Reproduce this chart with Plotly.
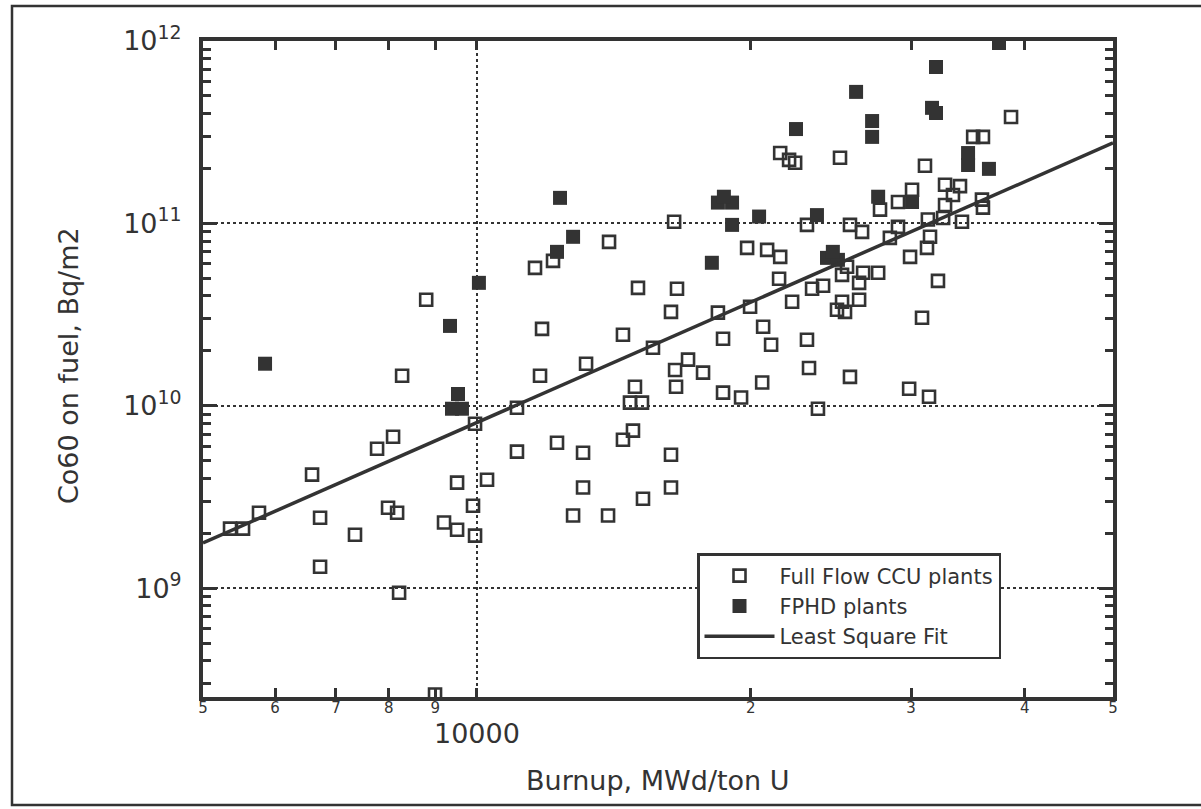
import math
import plotly.graph_objects as go

# Full Flow CCU plants (open squares): burnup MWd/tU, Co60 Bq/m2
ccu_x = [5354, 5533, 5761, 6589, 6724, 6724, 7345, 7767, 8088, 7986, 8171, 8212, 8275, 8795,
         9201, 9510, 9510, 9901, 9952, 10259, 9952, 11066, 11066, 12246, 11731, 13180, 13080,
         13080, 12754, 13934, 14470, 14841, 15222, 14916, 14729, 15184, 11583, 12123, 13969,
         15031, 11791, 14470, 15612, 8994, 38630, 35100, 35980, 31070, 32690, 33950, 33350,
         30070, 29020, 27730, 32690, 35890, 35980, 31300, 32530, 34120, 31470, 31230, 29920,
         28430, 29020, 25700, 26500, 23050, 16470, 21540, 22030, 22370, 25060, 19810, 20840,
         21540, 26570, 27600, 25510, 26300, 25190, 21480, 24010, 23350, 22200, 25190, 26300,
         24870, 25380, 32110, 30840, 16590, 16340, 18400, 19960, 18640, 20630, 21050, 23050,
         17060, 16510, 17720, 16550, 18640, 19510, 20580, 23170, 25700, 29850, 31390, 23700,
         16340, 16340]
ccu_y = [2.12e9, 2.12e9, 2.59e9, 4.19e9, 2.43e9, 1.31e9, 1.96e9, 5.81e9, 6.76e9, 2.76e9, 2.59e9,
         9.44e8, 1.46e10, 3.81e10, 2.29e9, 2.09e9, 3.79e9, 2.83e9, 1.94e9, 3.93e9, 7.97e9, 9.75e9,
         5.60e9, 6.27e9, 1.46e10, 1.70e10, 5.52e9, 3.56e9, 2.50e9, 2.50e9, 6.51e9, 7.30e9, 3.09e9,
         1.27e10, 1.04e10, 1.04e10, 5.70e10, 6.23e10, 7.92e10, 4.43e10, 2.64e10, 2.45e10, 2.08e10,
         2.61e8, 3.83e11, 2.98e11, 2.98e11, 2.07e11, 1.63e11, 1.60e11, 1.43e11, 1.53e11, 1.31e11,
         1.19e11, 1.26e11, 1.35e11, 1.22e11, 1.05e11, 1.07e11, 1.02e11, 8.44e10, 7.34e10, 6.55e10,
         8.33e10, 9.57e10, 9.81e10, 8.98e10, 9.81e10, 1.02e11, 2.43e11, 2.23e11, 2.15e11, 2.29e11,
         7.34e10, 7.16e10, 6.55e10, 5.36e10, 5.36e10, 5.78e10, 4.72e10, 5.22e10, 4.97e10, 4.55e10,
         4.38e10, 3.72e10, 3.72e10, 3.81e10, 3.36e10, 3.27e10, 4.84e10, 3.04e10, 4.38e10, 3.27e10,
         3.24e10, 3.49e10, 2.33e10, 2.71e10, 2.16e10, 2.30e10, 1.79e10, 1.57e10, 1.52e10, 1.27e10,
         1.18e10, 1.11e10, 1.34e10, 1.61e10, 1.44e10, 1.24e10, 1.12e10, 9.63e9, 5.39e9, 3.56e9]

# FPHD plants (filled squares)
fphd_x = [5850, 9341, 10050, 9532, 9388, 9628, 12340, 12754, 12246, 31950, 26100, 37470, 22420,
          27180, 27180, 31630, 31950, 34650, 34650, 36530, 18400, 19070, 18680, 19070, 20420,
          23640, 18120, 27600, 30070, 24250, 24930, 24610]
fphd_y = [1.70e10, 2.74e10, 4.72e10, 1.16e10, 9.63e9, 9.63e9, 1.38e11, 8.44e10, 6.98e10, 7.20e11,
          5.26e11, 9.75e11, 3.29e11, 3.64e11, 2.98e11, 4.30e11, 4.03e11, 2.43e11, 2.09e11, 1.99e11,
          1.30e11, 1.30e11, 1.40e11, 9.81e10, 1.09e11, 1.11e11, 6.08e10, 1.40e11, 1.31e11, 6.47e10,
          6.31e10, 6.98e10]

# Least square fit end points
fit_x = [5000, 50000]
fit_y = [1.77e9, 2.76e11]

# Tick labels
x_tickvals = [5000, 6000, 7000, 8000, 9000, 10000, 20000, 30000, 40000, 50000]
x_ticktext = ["5", "6", "7", "8", "9", " ", "2", "3", "4", "5"]
y_tickvals = [1e9, 1e10, 1e11, 1e12]
y_ticktext = ["10<sup>9</sup>", "10<sup>10</sup>", "10<sup>11</sup>", "10<sup>12</sup>"]
y_minor = [k * 10 ** e for e in range(8, 12) for k in range(2, 10)]

INK = "#333333"
FONT = "DejaVu Sans"

fig = go.Figure()
fig.add_trace(go.Scatter(
    x=ccu_x, y=ccu_y, mode="markers", name="Full Flow CCU plants",
    marker=dict(symbol="square-open", size=12, color=INK, line=dict(width=2.6, color=INK)),
))
fig.add_trace(go.Scatter(
    x=fphd_x, y=fphd_y, mode="markers", name="FPHD plants",
    marker=dict(symbol="square", size=14, color=INK, line=dict(width=0)),
))
fig.add_trace(go.Scatter(
    x=fit_x, y=fit_y, mode="lines", name="Least Square Fit",
    line=dict(color=INK, width=3.5),
))

fig.update_layout(
    width=1201, height=809,
    margin=dict(l=203, r=88, t=41, b=112),
    paper_bgcolor="white", plot_bgcolor="white",
    font=dict(family=FONT, color=INK),
    showlegend=True,
    legend=dict(
        x=(697 - 203) / 910, y=(697 - 553) / 656, xanchor="left", yanchor="top",
        bgcolor="white", bordercolor=INK, borderwidth=2.5,
        font=dict(size=21, family=FONT, color=INK),
        itemwidth=70, tracegroupgap=0,
    ),
    xaxis=dict(
        type="log", range=[math.log10(5000), math.log10(50000)],
        tickvals=x_tickvals, ticktext=x_ticktext,
        tickfont=dict(size=15, family=FONT, color=INK),
        ticks="inside", ticklen=9, tickwidth=2.5, tickcolor=INK,
        showline=True, linewidth=4, linecolor=INK, mirror="ticks",
        showgrid=False, zeroline=False, ticklabelstandoff=-6,
        minor=dict(tickvals=[10000], showgrid=True, gridcolor=INK, griddash="dot",
                   gridwidth=1.5, ticks=""),
    ),
    yaxis=dict(
        type="log", range=[8.403, 12.0],
        tickvals=y_tickvals, ticktext=y_ticktext,
        tickfont=dict(size=27, family=FONT, color=INK),
        ticks="inside", ticklen=14, tickwidth=3, tickcolor=INK,
        showline=True, linewidth=4, linecolor=INK, mirror="ticks",
        showgrid=True, gridcolor=INK, griddash="dot", gridwidth=1.5,
        zeroline=False, ticklabelstandoff=12,
        minor=dict(tickvals=y_minor, ticks="inside", ticklen=8, tickwidth=2.5,
                   tickcolor=INK, showgrid=False),
    ),
)

# "10000" decade label and axis titles
fig.add_annotation(x=math.log10(10000), xref="x", y=(697 - 733) / 656, yref="paper",
                   text="10000", showarrow=False, xanchor="center", yanchor="middle",
                   font=dict(size=27, family=FONT, color=INK))
fig.add_annotation(x=0.5, xref="paper", y=(697 - 780) / 656, yref="paper",
                   text="Burnup, MWd/ton U", showarrow=False, xanchor="center", yanchor="middle",
                   font=dict(size=27, family=FONT, color=INK))
fig.add_annotation(x=(68 - 203) / 910, xref="paper", y=(697 - 366) / 656, yref="paper",
                   text="Co60 on fuel, Bq/m2", showarrow=False, textangle=-90,
                   xanchor="center", yanchor="middle",
                   font=dict(size=27, family=FONT, color=INK))

# outer frame of the figure
fig.add_shape(type="rect", xref="paper", yref="paper",
              x0=(12 - 203) / 910, x1=(1205 - 203) / 910,
              y0=(697 - 805) / 656, y1=(697 - 6) / 656,
              line=dict(color=INK, width=2.5), layer="below")

fig.write_html("out.html", config={"displayModeBar": False},
               post_script="document.body.style.margin='0';")
